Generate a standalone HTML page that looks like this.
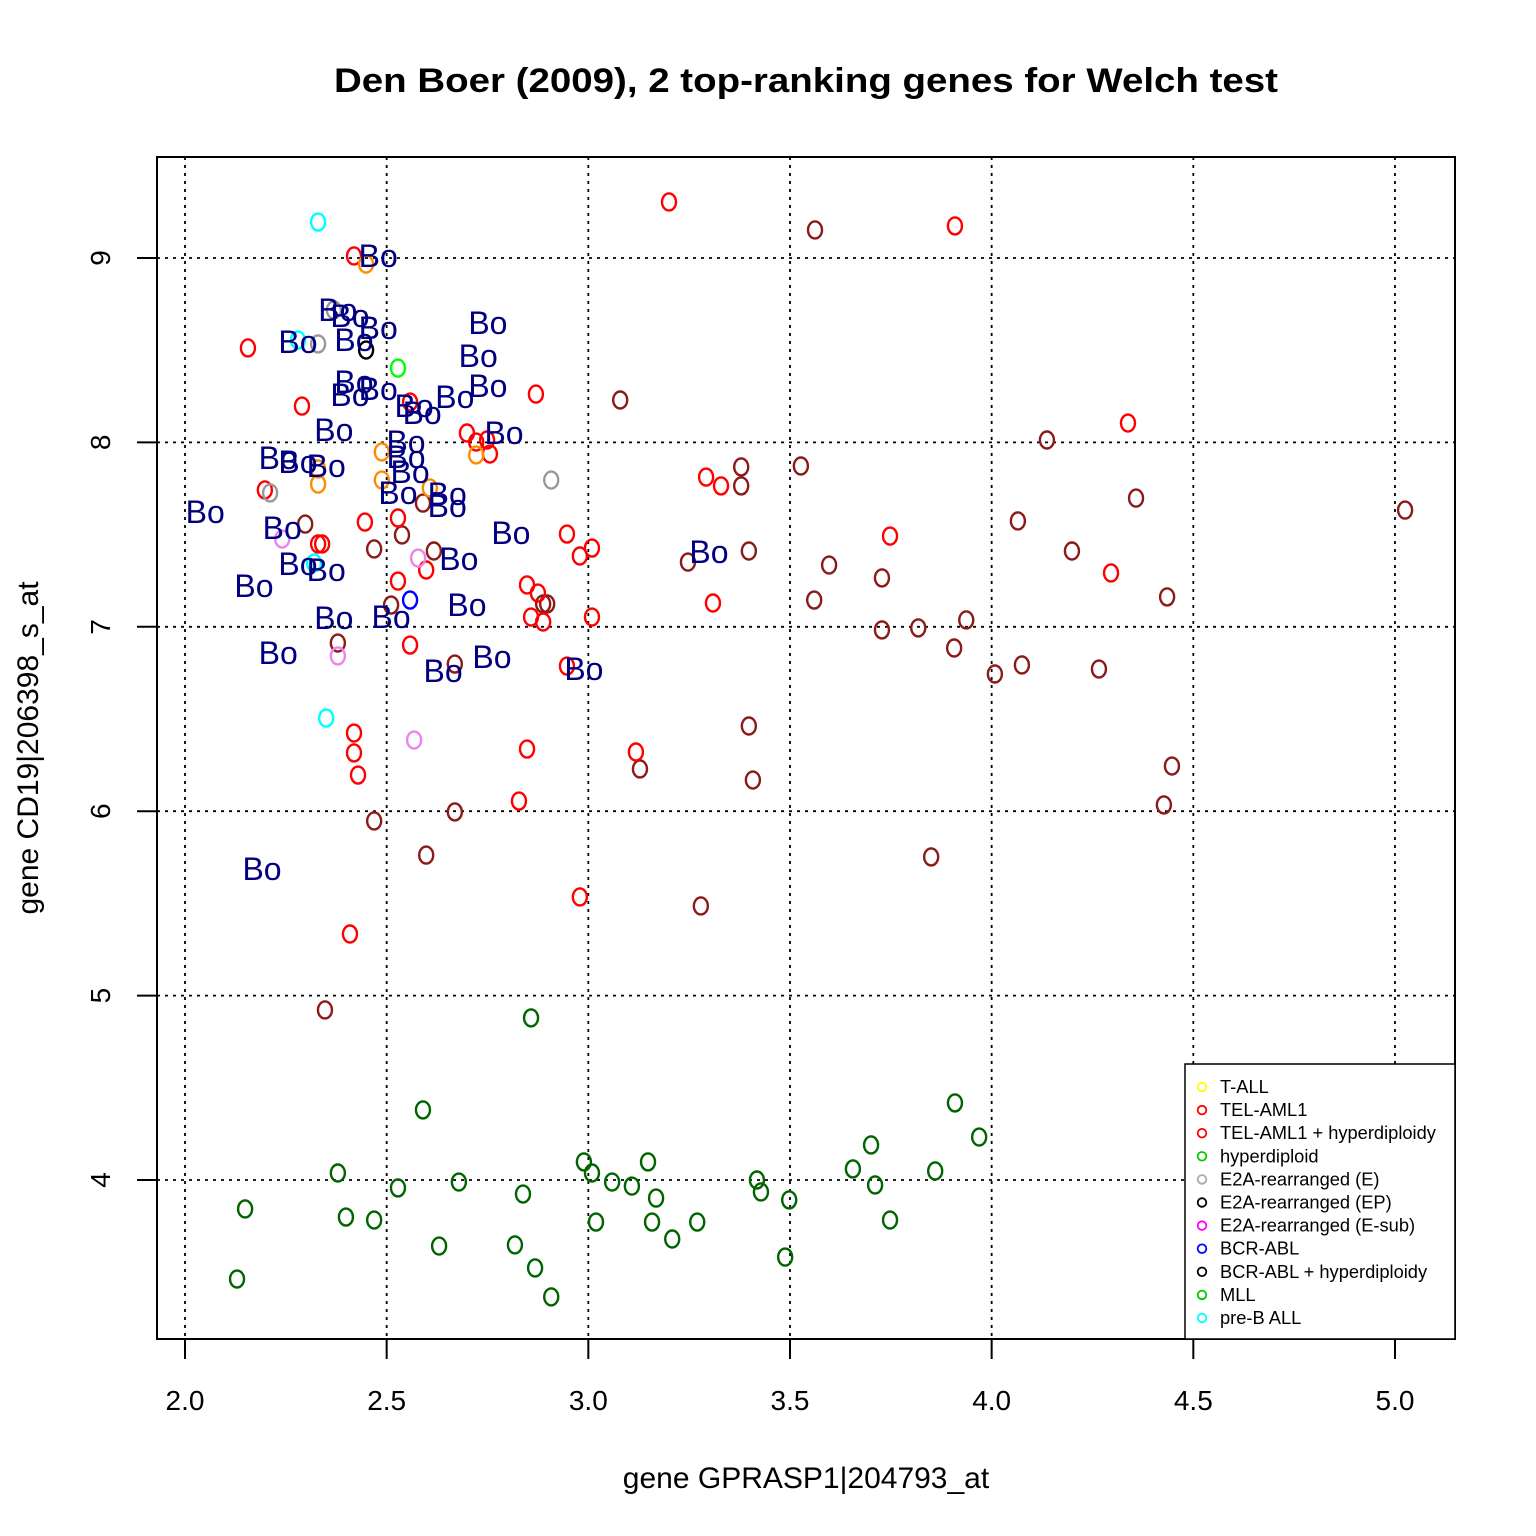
<!DOCTYPE html>
<html><head><meta charset="utf-8"><style>html,body{margin:0;padding:0;background:#fff}svg{display:block}text{font-family:"Liberation Sans",Arial,sans-serif}</style></head>
<body>
<svg id="chart" width="1536" height="1536" viewBox="0 0 1536 1536" xmlns="http://www.w3.org/2000/svg">
<rect width="1536" height="1536" fill="#fff"/>
<text x="806" y="92" text-anchor="middle" font-size="34" font-weight="bold" textLength="944" lengthAdjust="spacingAndGlyphs">Den Boer (2009), 2 top-ranking genes for Welch test</text>
<text x="806" y="1488" text-anchor="middle" font-size="30">gene GPRASP1|204793_at</text>
<text transform="translate(38,748) rotate(-90)" text-anchor="middle" font-size="30">gene CD19|206398_s_at</text>
<g id="grid"></g><g id="axes"></g><g id="marks"></g>
<rect x="157" y="157" width="1298" height="1182" fill="none" stroke="#000" stroke-width="2"/>
<g id="legend"></g>
</svg>
<script>
const xTicks=[2.0,2.5,3.0,3.5,4.0,4.5,5.0];
const xTickLabels=["2.0","2.5","3.0","3.5","4.0","4.5","5.0"];
const yTicks=[4,5,6,7,8,9];
const yTickLabels=["4","5","6","7","8","9"];
const darkredX=[3.562,3.079,4.137,3.379,3.527,3.379,4.358,4.065,5.025,3.398,4.199,3.247,3.597,3.728,3.560,4.435,3.937,3.728,3.818,3.907,4.075,4.008,4.266,3.398,3.128,3.408,4.447,4.427,3.850,3.279,2.888,2.898,2.617,2.538,2.469,2.298,2.669,2.598,2.669,2.469,2.379,2.347,2.590,2.511];
const darkredY=[9.152,8.230,8.013,7.867,7.872,7.764,7.698,7.574,7.633,7.411,7.411,7.351,7.335,7.265,7.145,7.162,7.037,6.983,6.994,6.885,6.793,6.744,6.771,6.462,6.229,6.169,6.245,6.034,5.752,5.486,7.124,7.124,7.411,7.498,7.422,7.557,6.798,5.762,5.996,5.947,6.912,4.922,7.671,7.118];
const redX=[3.200,3.909,2.419,2.156,2.290,2.870,2.558,4.338,2.699,2.722,2.756,2.749,3.292,3.329,3.748,2.947,3.009,2.979,2.446,2.528,4.296,3.309,2.330,2.340,2.598,2.528,2.848,2.875,2.858,2.888,3.009,2.558,2.947,2.419,2.419,2.429,3.118,2.848,2.828,2.979,2.409,2.198];
const redY=[9.304,9.174,9.011,8.512,8.197,8.262,8.219,8.105,8.051,8.002,7.937,8.013,7.812,7.764,7.492,7.503,7.427,7.384,7.568,7.590,7.292,7.129,7.449,7.449,7.308,7.248,7.227,7.183,7.053,7.026,7.053,6.901,6.787,6.424,6.316,6.196,6.321,6.337,6.055,5.535,5.334,7.742];
const orangeX=[2.449,2.488,2.488,2.330,2.330,2.722,2.607];
const orangeY=[8.967,7.948,7.796,7.856,7.774,7.932,7.753];
const greenX=[2.858,2.590,3.909,3.969,3.701,2.379,2.989,3.148,3.656,3.860,3.009,3.059,3.108,2.679,3.418,3.428,3.711,2.528,3.168,2.838,3.498,2.149,2.399,2.469,3.019,3.158,3.270,3.748,2.630,2.818,3.208,3.488,2.868,2.129,2.908];
const greenY=[4.879,4.380,4.418,4.233,4.190,4.038,4.098,4.098,4.060,4.049,4.038,3.989,3.967,3.989,4.000,3.935,3.973,3.957,3.902,3.924,3.892,3.843,3.799,3.783,3.772,3.772,3.772,3.783,3.642,3.648,3.680,3.582,3.523,3.463,3.366];
const violetX=[2.241,2.578,2.379,2.568], violetY=[7.476,7.373,6.842,6.386];
const cyanX=[2.330,2.350,2.280,2.320], cyanY=[9.195,6.505,8.555,7.346];
const greyX=[2.369,2.330,2.908,2.211], greyY=[8.718,8.534,7.796,7.726];
const blackX=[2.449], blackY=[8.501];
const limeX=[2.528], limeY=[8.403];
const blueX=[2.558], blueY=[7.145];
const boX=[2.479,2.379,2.409,2.479,2.280,2.419,2.751,2.727,2.419,2.409,2.479,2.751,2.568,2.669,2.588,2.369,2.791,2.548,2.548,2.231,2.280,2.350,2.558,2.528,2.650,2.650,2.050,2.808,2.241,3.299,2.679,2.280,2.350,2.171,2.699,2.369,2.511,2.231,2.761,2.640,2.989,2.191];
const boY=[9.011,8.718,8.685,8.620,8.544,8.555,8.648,8.469,8.328,8.257,8.290,8.306,8.197,8.246,8.159,8.067,8.051,8.002,7.921,7.915,7.894,7.872,7.839,7.726,7.720,7.655,7.623,7.509,7.536,7.406,7.368,7.341,7.308,7.221,7.118,7.048,7.053,6.858,6.836,6.760,6.771,5.687];
const legendLabels=["T-ALL","TEL-AML1","TEL-AML1 + hyperdiploidy","hyperdiploid","E2A-rearranged (E)","E2A-rearranged (EP)","E2A-rearranged (E-sub)","BCR-ABL","BCR-ABL + hyperdiploidy","MLL","pre-B ALL"];
const legendColors=["#ffff00","#ff0000","#ff0000","#00cc00","#aaaaaa","#000000","#ff00ff","#0000ff","#000000","#00cc00","#00ffff"];

const NS="http://www.w3.org/2000/svg";
function sx(v){return 185+(v-2)*403.33;}
function sy(v){return 258-(v-9)*184.4;}
function mk(tag,attrs,parent){const e=document.createElementNS(NS,tag);for(const k in attrs)e.setAttribute(k,attrs[k]);parent.appendChild(e);return e;}
const grid=document.getElementById('grid'),axes=document.getElementById('axes'),marks=document.getElementById('marks'),legend=document.getElementById('legend');
xTicks.forEach((t,i)=>{
  const g=mk('line',{x1:sx(t),x2:sx(t),y1:157,y2:1339,stroke:'#000','stroke-width':1.8,'stroke-dasharray':'3,5'},grid);
  
  
  const tk=mk('line',{x1:sx(t),x2:sx(t),y1:1339,y2:1359,stroke:'#000','stroke-width':2},axes);
  
  
  const tx=mk('text',{x:sx(t),y:1410,'text-anchor':'middle','font-size':28},axes);
  tx.textContent=xTickLabels[i];
  
  
});
yTicks.forEach((t,i)=>{
  const g=mk('line',{x1:157,x2:1455,y1:sy(t),y2:sy(t),stroke:'#000','stroke-width':1.8,'stroke-dasharray':'3,5'},grid);
  
  
  const tk=mk('line',{x1:137,x2:157,y1:sy(t),y2:sy(t),stroke:'#000','stroke-width':2},axes);
  
  
  const tx=mk('text',{'text-anchor':'middle','font-size':28,transform:`translate(110,${sy(t)}) rotate(-90)`},axes);
  tx.textContent=yTickLabels[i];
  
  
});
function pts(xs,ys,col,name){
  xs.forEach((x,i)=>{
    const e=mk('ellipse',{cx:sx(x),cy:sy(ys[i]),rx:7,ry:8.5,fill:'none',stroke:col,'stroke-width':2.4},marks);
    
    
  });
}
pts(darkredX,darkredY,'#8b1a1a','point-darkred');
pts(redX,redY,'#ff0000','point-red');
pts(orangeX,orangeY,'#ff8c00','point-orange');
pts(greenX,greenY,'#006400','point-darkgreen');
pts(violetX,violetY,'#ee82ee','point-violet');
pts(cyanX,cyanY,'#00ffff','point-cyan');
pts(greyX,greyY,'#999999','point-grey');
pts(blackX,blackY,'#000000','point-black');
pts(limeX,limeY,'#00ff00','point-green');
pts(blueX,blueY,'#0000ff','point-blue');
boX.forEach((x,i)=>{
  const t=mk('text',{x:sx(x),y:sy(boY[i])+11,'text-anchor':'middle','font-size':32,fill:'#000080'},marks);
  t.textContent='Bo';
  
  
});
const lb=mk('rect',{x:1185,y:1064,width:270,height:275,fill:'#fff',stroke:'#000','stroke-width':1.5},legend);


legendLabels.forEach((l,i)=>{
  const y=1087+i*23.1;
  const c=mk('circle',{cx:1202,cy:y,r:4.3,fill:'none',stroke:legendColors[i],'stroke-width':1.8},legend);
  
  
  const t=mk('text',{x:1220,y:y+6,'font-size':18.3},legend);
  t.textContent=l;
  
  
});
</script>
</body></html>
